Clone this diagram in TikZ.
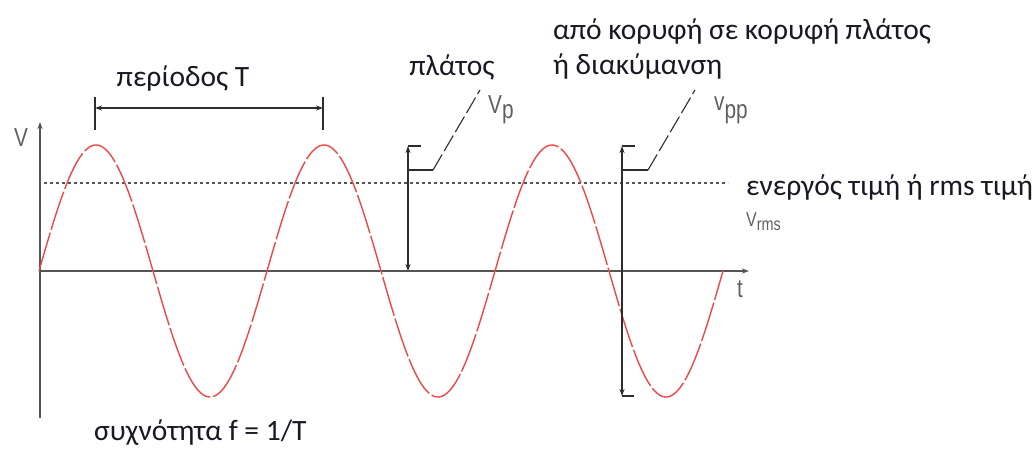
\documentclass[tikz,border=0pt]{standalone}
\usepackage{fontspec}
\setmainfont{Carlito}
\newfontfamily\techfont{Liberation Sans}[FakeStretch=0.8]
\usetikzlibrary{arrows.meta}
\definecolor{wave}{RGB}{236,72,72}
\definecolor{axisc}{RGB}{85,85,85}
\definecolor{dimc}{RGB}{45,45,45}
\definecolor{txt}{RGB}{25,25,35}
\definecolor{techc}{RGB}{95,95,95}
\tikzset{
  lbl/.style={inner sep=0pt, text=txt, font=\fontsize{29.5}{34}\selectfont},
  tech/.style={inner sep=0pt, text=techc, font=\techfont\fontsize{26}{30}\selectfont},
  axisline/.style={draw=axisc, line width=1.4pt, -{Stealth[length=7pt,width=5pt]}},
  dimline/.style={draw=dimc, line width=1.2pt},
  dimarrow/.style={dimline, {Stealth[length=7pt,width=5pt]}-{Stealth[length=7pt,width=5pt]}},
  leader/.style={draw=dimc, line width=1.1pt},
  leaderdash/.style={leader, dash pattern=on 18pt off 4pt},
  wavestyle/.style={draw=wave, line width=1.4pt, dash pattern=on 40pt off 3pt},
  rmsstyle/.style={draw=axisc, line width=1.2pt, dash pattern=on 2.5pt off 3.5pt}
}
\begin{document}
\begin{tikzpicture}[x=1pt,y=-1pt]
\useasboundingbox (0,0) rectangle (1035,450);
% axes
\coordinate (ybot) at (40,418);
\coordinate (ytop) at (40,122);
\coordinate (xleft) at (40,271);
\coordinate (xright) at (749,271);
\draw[axisline] (ybot) -- (ytop);
\draw[axisline] (xleft) -- (xright);
\node[tech] (vlab) at (21,138) {V};
\node[tech] (tlab) at (740,289) {t};
% rms line
\coordinate (rmsL) at (44,183);
\coordinate (rmsR) at (728,183);
\draw[rmsstyle] (rmsL) -- (rmsR);
% sine wave
\draw[wavestyle] plot[domain=0:684, samples=400, smooth] ({\x+39}, {271-126*sin(\x/228*360)});
% period
\coordinate (pa) at (95,108);
\coordinate (pb) at (323,108);
\coordinate (pat) at (95,97);
\coordinate (pab) at (95,130);
\coordinate (pbt) at (323,97);
\coordinate (pbb) at (323,130);
\draw[dimline] (pat) -- (pab);
\draw[dimline] (pbt) -- (pbb);
\draw[dimarrow] (pa) -- (pb);
\node[lbl] (per) at (183,78) {περίοδος T};
% Vp
\coordinate (vpt) at (408,146);
\coordinate (vpb) at (408,271);
\coordinate (vptick) at (421,146);
\draw[dimline] (vpt) -- (vptick);
\draw[dimarrow] (vpt) -- (vpb);
\coordinate (vpl0) at (408,170);
\coordinate (vpl1) at (433,170);
\coordinate (vpl2) at (480,90);
\draw[leader] (vpl0) -- (vpl1);
\draw[leaderdash] (vpl1) -- (vpl2);
\node[tech, anchor=west] (vp) at (488,110) {V\raisebox{-0.4ex}{p}};
\node[lbl] (amp) at (452,67) {πλάτος};
% Vpp
\coordinate (vppt) at (622,146);
\coordinate (vppb) at (622,396);
\coordinate (vpptick) at (635,146);
\coordinate (vppbtick) at (634,396);
\draw[dimline] (vppt) -- (vpptick);
\draw[dimline] (vppb) -- (vppbtick);
\draw[dimarrow] (vppt) -- (vppb);
\coordinate (vppl0) at (622,170);
\coordinate (vppl1) at (648,170);
\coordinate (vppl2) at (695,90);
\draw[leader] (vppl0) -- (vppl1);
\draw[leaderdash] (vppl1) -- (vppl2);
\node[tech, anchor=west] (vpp) at (714,110) {\raisebox{0.3ex}{v}\raisebox{-0.3ex}{pp}};
\node[lbl, anchor=west] (p2p1) at (553,31) {από κορυφή σε κορυφή πλάτος};
\node[lbl, anchor=west] (p2p2) at (553,66) {ή διακύμανση};
% rms labels
\node[lbl, anchor=west] (rms) at (746,187) {ενεργός τιμή ή rms τιμή};
\node[tech, anchor=west] (vrms) at (746,222) {\fontsize{20}{22}\selectfont V\raisebox{-0.35ex}{\fontsize{18}{20}\selectfont rms}};
% frequency
\node[lbl, anchor=west] (freq) at (94,433) {συχνότητα f = 1/T};
\end{tikzpicture}
\end{document}
